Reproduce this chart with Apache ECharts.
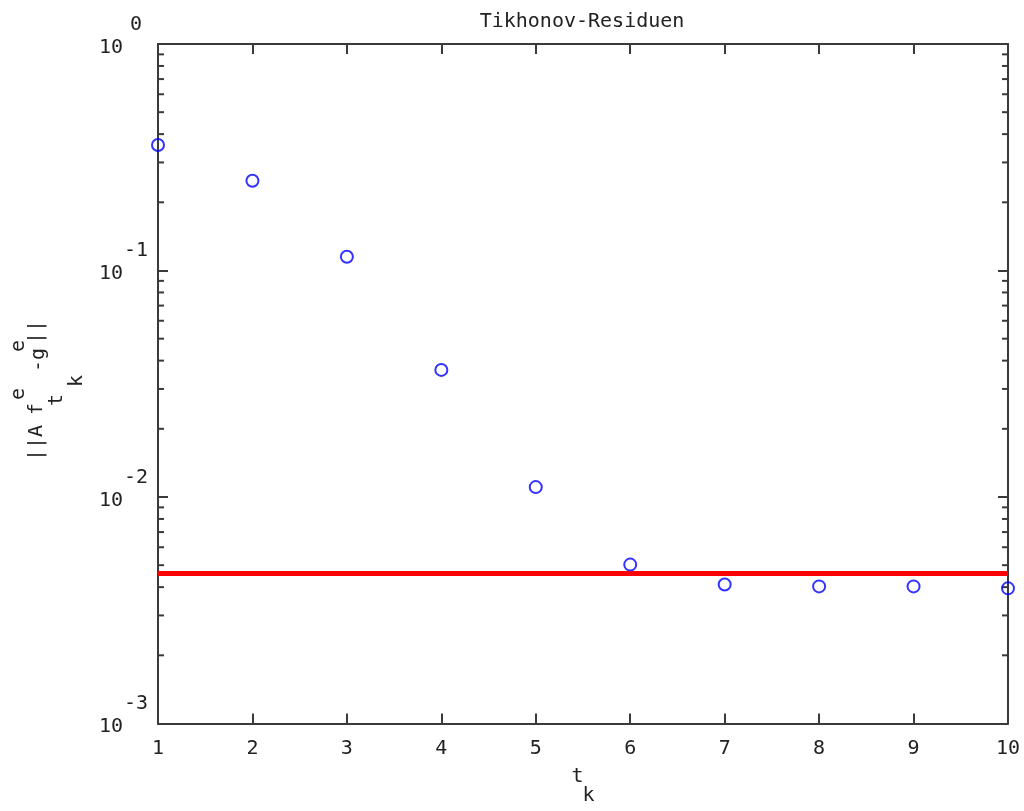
<!DOCTYPE html>
<html><head><meta charset="utf-8">
<script src="https://cdn.jsdelivr.net/npm/echarts@6/dist/echarts.min.js"></script>
<style>html,body{margin:0;padding:0;background:#fff}#c{width:1024px;height:811px}</style>
</head><body><div id="c"></div>
<script>
const titleText = 'Tikhonov-Residuen';
const kValues = [1, 2, 3, 4, 5, 6, 7, 8, 9, 10];
const residuals = [0.358, 0.249, 0.115, 0.0364, 0.01106, 0.00503, 0.00411, 0.00403, 0.00403, 0.00395];
const noiseLevel = 0.00459;
const xTickLabels = ['1', '2', '3', '4', '5', '6', '7', '8', '9', '10'];
const yDecades = [-3, -2, -1, 0];
const minorMultipliers = [2, 3, 4, 5, 6, 7, 8, 9];

const minorTickValues = [];
yDecades.slice(0, -1).forEach(d => minorMultipliers.forEach(m => minorTickValues.push(m * Math.pow(10, d))));

const FONT = 'DejaVu Sans Mono';
const TXT = '#222';
const AX = '#3a3a3a';

const chart = echarts.init(document.getElementById('c'), null, {renderer: 'canvas'});

const yLabelPieces = [
  {t: '||A', x: 37, y: 443},
  {t: 'f', x: 37, y: 409},
  {t: 'e', x: 19, y: 394},
  {t: 't', x: 57, y: 400},
  {t: 'k', x: 77, y: 381},
  {t: '-g', x: 39, y: 360},
  {t: 'e', x: 19, y: 346},
  {t: '||', x: 37, y: 332}
];

const tokenBase = {fontFamily: FONT, fontSize: 20, color: TXT, lineHeight: 23};

const option = {
  animation: false,
  backgroundColor: '#fff',
  title: {
    text: titleText, left: 577, top: 7, textAlign: 'center',
    textStyle: {fontFamily: FONT, fontSize: 20, fontWeight: 'normal', color: TXT}
  },
  grid: {left: 158, right: 16, top: 44, bottom: 83, containLabel: false},
  xAxis: [{
    type: 'value', min: 1, max: 10, interval: 1, position: 'bottom',
    axisLine: {lineStyle: {color: AX, width: 2}},
    axisTick: {inside: true, length: 10, lineStyle: {color: AX, width: 2}},
    splitLine: {show: false},
    axisLabel: {margin: 15, fontFamily: FONT, fontSize: 20, color: TXT,
      formatter: v => xTickLabels[kValues.indexOf(v)] || ''},
    name: '{t|t}{sp|}\n{sp|}{k|k}', nameLocation: 'middle', nameGap: 44,
    nameTextStyle: {fontFamily: FONT, color: TXT, verticalAlign: 'top', rich: {
      t: Object.assign({}, tokenBase, {lineHeight: 19}),
      k: Object.assign({}, tokenBase, {lineHeight: 19}),
      sp: Object.assign({}, tokenBase, {lineHeight: 19, width: 11})
    }}
  }, {
    type: 'value', min: 1, max: 10, interval: 1, position: 'top',
    axisLine: {lineStyle: {color: AX, width: 2}},
    axisTick: {inside: true, length: 10, lineStyle: {color: AX, width: 2}},
    axisLabel: {show: false}, splitLine: {show: false}
  }],
  yAxis: [{
    type: 'log', logBase: 10, min: 0.001, max: 1, position: 'left',
    axisLine: {show: true, lineStyle: {color: AX, width: 2}},
    axisTick: {show: true, inside: true, length: 10, lineStyle: {color: AX, width: 2}},
    splitLine: {show: false},
    axisLabel: {
      margin: 10, fontFamily: FONT, fontSize: 20, color: TXT, padding: [0, 0, 16, 0],
      formatter: v => '{s|}{e|' + Math.round(Math.log10(v)) + '}\n{b|10}{s2|}',
      rich: {
        s: Object.assign({}, tokenBase, {width: 25}),
        e: Object.assign({}, tokenBase, {width: 24, align: 'left'}),
        b: Object.assign({}, tokenBase, {width: 25, align: 'left'}),
        s2: Object.assign({}, tokenBase, {width: 24})
      }
    }
  }, {
    type: 'log', logBase: 10, min: 0.001, max: 1, position: 'right',
    axisLine: {show: true, lineStyle: {color: AX, width: 2}},
    axisTick: {show: true, inside: true, length: 10, lineStyle: {color: AX, width: 2}},
    axisLabel: {show: false}, splitLine: {show: false}
  }],
  series: [{
    type: 'custom', xAxisIndex: 0, yAxisIndex: 0, clip: false, silent: true,
    data: minorTickValues.map(v => [v]),
    renderItem: (params, api) => {
      const v = api.value(0);
      const l = api.coord([1, v]);
      const r = api.coord([10, v]);
      const st = {stroke: AX, lineWidth: 2};
      return {type: 'group', children: [
        {type: 'line', shape: {x1: l[0], y1: l[1], x2: l[0] + 6, y2: l[1]}, style: st},
        {type: 'line', shape: {x1: r[0], y1: r[1], x2: r[0] - 6, y2: r[1]}, style: st}
      ]};
    },
    encode: {y: 0}
  }, {
    type: 'line', xAxisIndex: 0, yAxisIndex: 0, symbol: 'none',
    data: [[kValues[0], noiseLevel], [kValues[kValues.length - 1], noiseLevel]],
    lineStyle: {color: '#ff0000', width: 5}, z: 3
  }, {
    type: 'scatter', xAxisIndex: 0, yAxisIndex: 0,
    data: kValues.map((k, i) => [k, residuals[i]]),
    symbol: 'circle', symbolSize: 12,
    itemStyle: {color: 'rgba(255,255,255,0)', borderColor: '#0000ff', borderWidth: 2},
    z: 4
  }],
  graphic: yLabelPieces.map(p => ({
    type: 'text', x: p.x, y: p.y, rotation: Math.PI / 2, silent: true,
    style: {text: p.t, fontFamily: FONT, fontSize: 20, fill: TXT, align: 'center', verticalAlign: 'middle'}
  }))
};
chart.setOption(option);
</script>
</body></html>
